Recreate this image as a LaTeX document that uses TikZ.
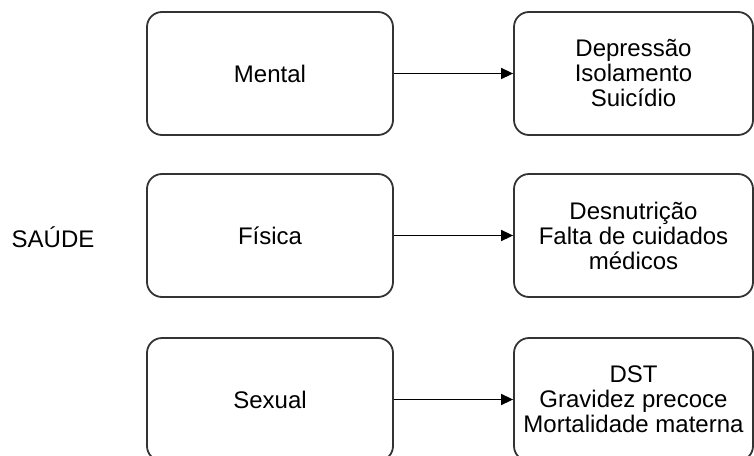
\documentclass[tikz,border=0pt]{standalone}
\usepackage{fontspec}
\setmainfont{Liberation Sans}
\usetikzlibrary{arrows.meta}
\definecolor{edge}{HTML}{333333}
\tikzset{
  box/.style={draw=edge, line width=1.8pt, rounded corners=15pt, inner sep=0pt,
    align=center, font=\fontsize{24}{25}\selectfont},
  leftbox/.style={box, minimum width=246pt, minimum height=123pt},
  rightbox/.style={box, minimum width=239pt, minimum height=123pt},
  conn/.style={draw=black, line width=1.5pt, -{Triangle[length=12pt,width=11pt]}},
  lbl/.style={inner sep=0pt, font=\fontsize{24}{25}\selectfont}
}
\begin{document}
\begin{tikzpicture}[x=1pt,y=-1pt]
\useasboundingbox (0,0) rectangle (754,455);
\clip (0,0) rectangle (754,455);
\fill[white] (0,0) rectangle (754,455);
\node[lbl] (saude) at (53,237) {SAÚDE};
\node[leftbox] (mental) at (270,73.5) {Mental};
\node[leftbox] (fisica) at (270,235.5) {Física};
\node[leftbox] (sexual) at (270,399.5) {Sexual};
\node[rightbox] (r1) at (633.5,73.5) {Depressão\\Isolamento\\Suicídio};
\node[rightbox] (r2) at (633.5,235.5) {Desnutrição\\Falta de cuidados\\médicos};
\node[rightbox] (r3) at (633.5,399.5) {DST\\Gravidez precoce\\Mortalidade materna};
\draw[conn] (mental) -- (r1);
\draw[conn] (fisica) -- (r2);
\draw[conn] (sexual) -- (r3);
\end{tikzpicture}
\end{document}
